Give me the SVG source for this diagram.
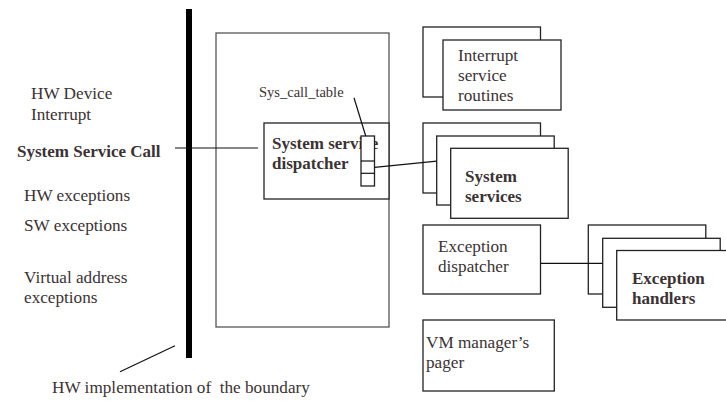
<svg xmlns="http://www.w3.org/2000/svg" width="726" height="403" viewBox="0 0 726 403">
<style>
text{font-family:"Liberation Serif","Times New Roman",serif;font-size:17.2px;fill:#3b3235;white-space:pre}
.b{font-weight:bold;font-size:17px}
.s{font-size:14.5px}
.box{fill:#fff;stroke:#222;stroke-width:1.3}
.gbox{fill:#fff;stroke:#555;stroke-width:1.3}
.ln{stroke:#111;stroke-width:1.2;fill:none}
</style>
<rect width="726" height="403" fill="#fff"/>
<g id="labels-left">
<text x="31" y="99">HW Device</text>
<text x="31" y="120">Interrupt</text>
<text x="17" y="157" class="b">System Service Call</text>
<text x="24" y="201">HW exceptions</text>
<text x="24" y="231">SW exceptions</text>
<text x="24" y="283">Virtual address</text>
<text x="24" y="303">exceptions</text>
<text x="52" y="393" xml:space="preserve">HW implementation of  the boundary</text>
</g>
<g id="boundary">
<rect x="186" y="9" width="6" height="349" fill="#000"/>
</g>
<g id="kernel">
<rect x="216" y="33" width="173" height="294" class="gbox"/>
</g>
<g id="sys-call-table-label">
<text x="259" y="97" class="s">Sys_call_table</text>
</g>
<g id="dispatcher">
<rect x="264" y="123" width="125" height="76" class="box"/>
<text x="272" y="149" class="b">System service</text>
<text x="272" y="169" class="b">dispatcher</text>
<rect x="361" y="136" width="13.5" height="50" class="box"/>
<line x1="361" y1="161" x2="374.5" y2="161" class="ln"/>
<line x1="361" y1="173.3" x2="374.5" y2="173.3" class="ln"/>
</g>
<g id="isr">
<rect x="423" y="27" width="117.5" height="70" class="box"/>
<rect x="443" y="40" width="118" height="70" class="box"/>
<text x="458" y="61">Interrupt</text>
<text x="458" y="81">service</text>
<text x="458" y="101">routines</text>
</g>
<g id="system-services">
<rect x="423" y="123" width="117.5" height="70" class="box"/>
<rect x="436.7" y="136" width="117.5" height="69" class="box"/>
<rect x="450.7" y="148.3" width="117.5" height="70" class="box"/>
<text x="465" y="182" class="b">System</text>
<text x="465" y="202" class="b">services</text>
</g>
<g id="exception-dispatcher">
<rect x="423" y="225" width="117.5" height="69" class="box"/>
<text x="438" y="252">Exception</text>
<text x="438" y="272">dispatcher</text>
</g>
<g id="exception-handlers">
<rect x="588.3" y="225" width="117.5" height="69" class="box"/>
<rect x="602.7" y="238.3" width="117.5" height="69" class="box"/>
<rect x="616.7" y="250.5" width="120" height="69.5" class="box"/>
<text x="632" y="284" class="b">Exception</text>
<text x="632" y="304" class="b">handlers</text>
</g>
<g id="vm-pager">
<rect x="423" y="320" width="131.3" height="71" class="box"/>
<text x="426" y="348">VM manager’s</text>
<text x="426" y="368">pager</text>
</g>
<g id="connectors">
<line x1="175" y1="148" x2="258" y2="148" class="ln"/>
<line x1="354" y1="97.7" x2="365.7" y2="136" class="ln"/>
<line x1="374.5" y1="167.3" x2="436.7" y2="161.2" class="ln"/>
<line x1="540.5" y1="263.3" x2="602.7" y2="263.3" class="ln"/>
<line x1="175" y1="345.7" x2="120" y2="371.7" class="ln"/>
</g>
</svg>
